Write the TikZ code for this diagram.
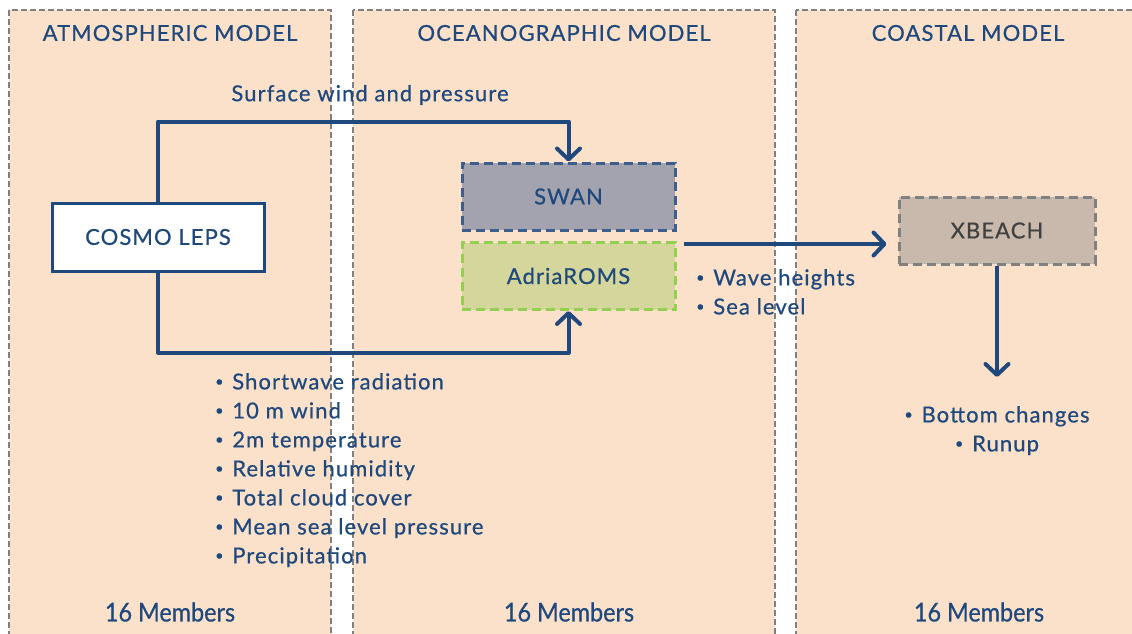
\documentclass[tikz,border=0pt]{standalone}
\usepackage{fontspec}
\setmainfont{Lato}[LetterSpace=5, FakeBold=0.6]
\newfontfamily\condfont{Lato}[FakeStretch=0.9, FakeBold=0.6]
\usetikzlibrary{arrows.meta}
\definecolor{panelfill}{HTML}{FBE1CA}
\definecolor{panelline}{HTML}{808080}
\definecolor{navy}{HTML}{1F497D}
\definecolor{swanfill}{HTML}{A2A3AE}
\definecolor{swanline}{HTML}{3C5E8E}
\definecolor{romsfill}{HTML}{D4D69B}
\definecolor{romsline}{HTML}{92D050}
\definecolor{xbfill}{HTML}{C9B9AC}
\definecolor{xbtext}{HTML}{404040}
\newcommand\smallbullet{\raisebox{0.28ex}{\scalebox{0.65}{\textbullet}}\hspace{0.4em}}
\begin{document}
\begin{tikzpicture}[x=1pt,y=-1pt,
  panel/.style={draw=panelline, fill=panelfill, line width=2.5pt, dash pattern=on 6pt off 3pt},
  title/.style={text=navy, inner sep=0pt, font=\fontsize{22}{26}\selectfont},
  label/.style={text=navy, inner sep=0pt, font=\fontsize{22}{29}\selectfont},
  members/.style={text=navy, inner sep=0pt, font=\condfont\fontsize{26}{30}\selectfont},
  model/.style={minimum width=213pt, minimum height=67pt, line width=3pt,
    dash pattern=on 9pt off 5pt, inner sep=0pt, font=\fontsize{22}{26}\selectfont},
  flow/.style={draw=navy, line width=4pt, line join=round,
    -{Straight Barb[length=11pt,width=23pt,line cap=round,line join=round]}}]
\useasboundingbox (0,0) rectangle (1132,634);
\clip (0,0) rectangle (1132,634);
\fill[white] (0,0) rectangle (1132,634);

% three model panels
\path[panel] (9,10) rectangle (331,660);
\path[panel] (353,10) rectangle (775,660);
\path[panel] (796,10) rectangle (1160,660);

% panel titles
\node[title] (tatm) at (170,33) {ATMOSPHERIC MODEL};
\node[title] (tocean) at (564,33) {OCEANOGRAPHIC MODEL};
\node[title] (tcoast) at (968,33) {COASTAL MODEL};

% model boxes
\node[draw=navy, fill=white, line width=3pt, minimum width=212pt, minimum height=68pt,
  inner sep=0pt, text=navy, font=\fontsize{22}{26}\selectfont] (cosmo) at (158,237) {COSMO LEPS};
\node[model, draw=swanline, fill=swanfill, text=navy] (swan) at (568.5,196.5) {SWAN};
\node[model, draw=romsline, fill=romsfill, text=navy] (roms) at (568.5,276) {AdriaROMS};
\node[model, draw=panelline, fill=xbfill, text=xbtext, minimum width=196pt] (xbeach) at (997,230.5) {XBEACH};

% coupling arrows
\draw[flow] (cosmo.north) -- ++(0,-80) -| (swan.north);
\draw[flow] (cosmo.south) -- ++(0,80) -| (roms.south);
\coordinate (wavesrc) at (684,244);
\draw[flow, shorten >=11pt] (wavesrc) -- (wavesrc -| xbeach.west);
\coordinate (xbout) at (997,377);
\draw[flow] (xbeach.south) -- (xbout);

% exchanged fields
\node[label] (surf) at (370,95) {Surface wind and pressure};
\node[label, anchor=north west, align=left] (atmvars) at (215,373) {%
  \smallbullet Shortwave radiation\\
  \smallbullet 10 m wind\\
  \smallbullet 2m temperature\\
  \smallbullet Relative humidity\\
  \smallbullet Total cloud cover\\
  \smallbullet Mean sea level pressure\\
  \smallbullet Precipitation};
\node[label, anchor=north west, align=left] (wavevars) at (696,269) {%
  \smallbullet Wave heights\\
  \smallbullet Sea level};
\node[label, anchor=north, align=center] (coastvars) at (997,406) {%
  \smallbullet Bottom changes\\
  \smallbullet Runup};

% ensemble size
\node[members] (m1) at (170,612) {16 Members};
\node[members] (m2) at (569,612) {16 Members};
\node[members] (m3) at (979,612) {16 Members};
\end{tikzpicture}
\end{document}
